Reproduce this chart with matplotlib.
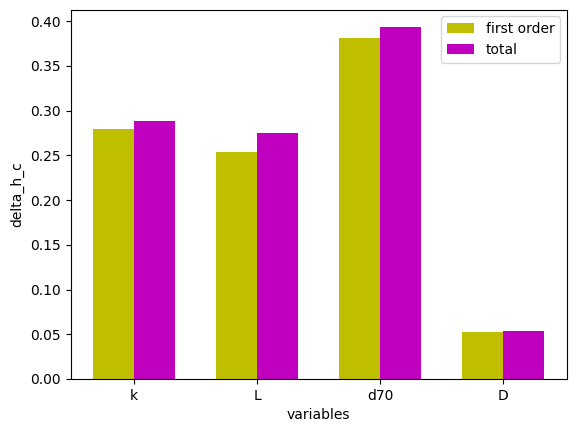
import matplotlib

matplotlib.use("Agg")
import matplotlib.pyplot as plt
import numpy as np

VARIABLES = ["k", "L", "d70", "D"]
FIRST_ORDER = [0.2793, 0.2536, 0.3810, 0.0525]
TOTAL = [0.2883, 0.2749, 0.3933, 0.0536]
BAR_WIDTH = 1.0 / 3.0


def main() -> None:
    fig, ax = plt.subplots(figsize=(5.76, 4.32), dpi=100)
    fig.subplots_adjust(left=0.1225, right=0.984, bottom=0.1227, top=0.978)

    x = np.arange(len(VARIABLES))
    ax.bar(x - BAR_WIDTH / 2, FIRST_ORDER, BAR_WIDTH, color="y", label="first order")
    ax.bar(x + BAR_WIDTH / 2, TOTAL, BAR_WIDTH, color="m", label="total")

    ax.set_xticks(x)
    ax.set_xticklabels(VARIABLES)
    ax.set_xlabel("variables")
    ax.set_ylabel("delta_h_c")
    ax.legend()

    fig.savefig("out.png", dpi=100)
    plt.close(fig)


if __name__ == "__main__":
    main()
